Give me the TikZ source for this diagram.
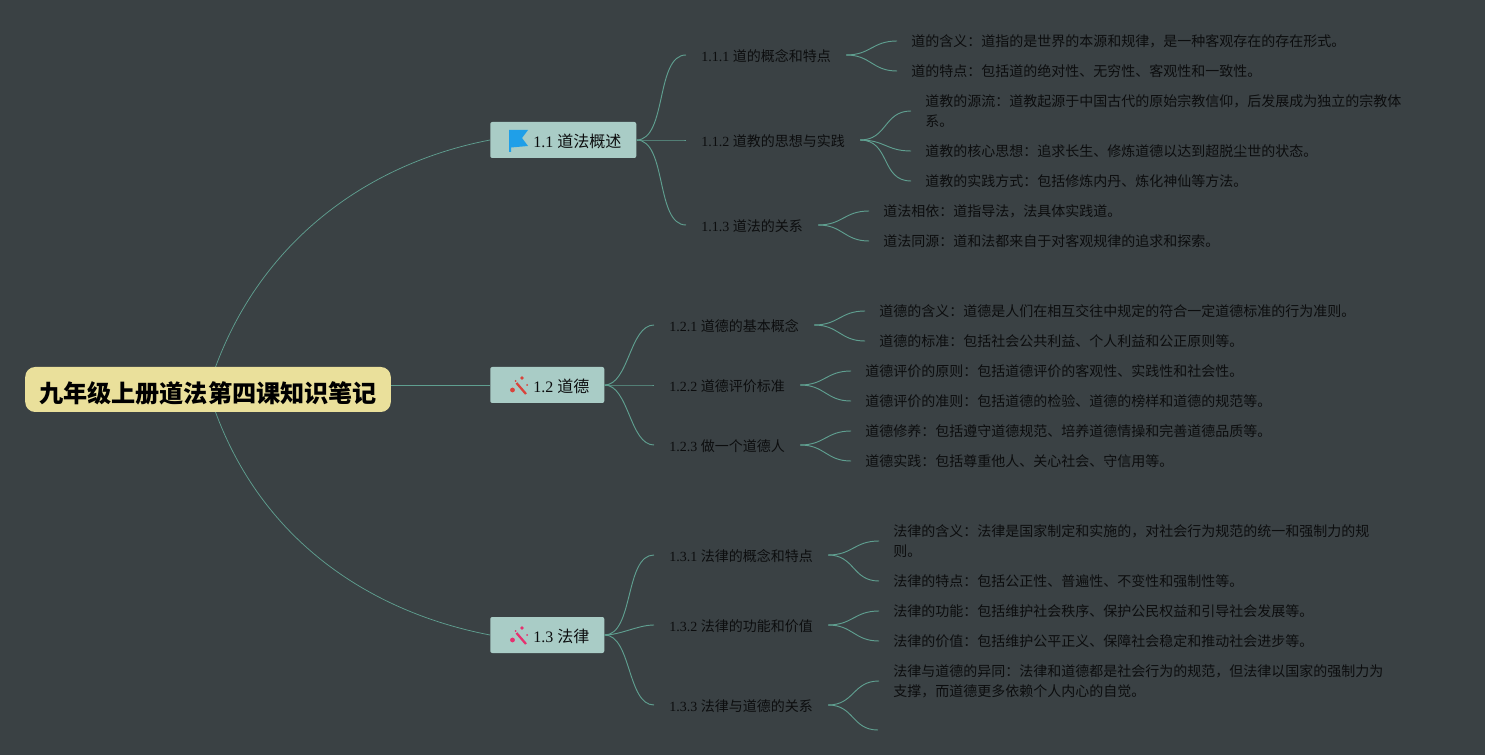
\documentclass[tikz,border=0pt]{standalone}
\usepackage{fontspec}
\setmainfont{Liberation Serif}
\newfontfamily\cjk{Noto Sans CJK SC}
\usetikzlibrary{backgrounds}
\definecolor{boardbg}{HTML}{3A4144}
\definecolor{rootfill}{HTML}{EAE09B}
\definecolor{topicfill}{HTML}{A9CCC6}
\definecolor{linkcol}{HTML}{5F9F90}
\definecolor{inkcol}{HTML}{0C0D0E}
\definecolor{flagblue}{HTML}{1F9FE8}
\definecolor{wandred}{HTML}{D9433B}
\definecolor{wandpink}{HTML}{E6316F}
\tikzset{
	rootnode/.style={fill=rootfill, rounded corners=7.5pt, inner xsep=10.4pt, inner ysep=0pt, minimum height=33.75pt, text height=19.5pt, text depth=0.5pt, text=black, font=\fontsize{18.1}{22}\cjk\bfseries},
	topicnode/.style={anchor=west, fill=topicfill, rounded corners=1.5pt, inner xsep=11.25pt, inner ysep=0pt, minimum height=27pt, text height=11pt, text depth=0.4pt, text=inkcol, font=\fontsize{12}{15}\selectfont},
	subnode/.style={anchor=west, inner xsep=11.25pt, inner ysep=0pt, text height=10pt, text depth=0.6pt, text=inkcol, font=\fontsize{10.5}{15}\selectfont},
	leafnode/.style={anchor=west, inner xsep=10.5pt, inner ysep=0pt, align=left, text=inkcol, font=\fontsize{10.5}{15}\cjk},
	rootlink/.style={linkcol, line width=0.55pt},
	branchlink/.style={linkcol, line width=0.7pt, out=0, in=180, looseness=0.8},
	leaflink/.style={linkcol, line width=0.7pt, out=0, in=180, looseness=1.2}
}
\begin{document}
\begin{tikzpicture}[x=0.75pt, y=-0.75pt]
	\useasboundingbox (0,0) rectangle (1485,755);

	% main nodes
	\node[rootnode] (root) at (208,389.5) {九年级上册道法第四课知识笔记};
	\node[topicnode] (law) at (490,140) {\hspace*{21pt}1.1 {\cjk 道法概述}};
	\node[topicnode] (moral) at (490,385) {\hspace*{21pt}1.2 {\cjk 道德}};
	\node[topicnode] (legal) at (490,635) {\hspace*{21pt}1.3 {\cjk 法律}};

	% second level
	\node[subnode] (sub11) at (686,55) {1.1.1 {\cjk 道的概念和特点}};
	\node[subnode] (sub12) at (686,140) {1.1.2 {\cjk 道教的思想与实践}};
	\node[subnode] (sub13) at (686,225) {1.1.3 {\cjk 道法的关系}};
	\node[subnode] (sub21) at (654,325) {1.2.1 {\cjk 道德的基本概念}};
	\node[subnode] (sub22) at (654,385) {1.2.2 {\cjk 道德评价标准}};
	\node[subnode] (sub23) at (654,445) {1.2.3 {\cjk 做一个道德人}};
	\node[subnode] (sub31) at (654,555) {1.3.1 {\cjk 法律的概念和特点}};
	\node[subnode] (sub32) at (654,625) {1.3.2 {\cjk 法律的功能和价值}};
	\node[subnode] (sub33) at (654,705) {1.3.3 {\cjk 法律与道德的关系}};

	% leaves
	\node[leafnode] (leaf11a) at (897,41) {道的含义：道指的是世界的本源和规律，是一种客观存在的存在形式。};
	\node[leafnode] (leaf11b) at (897,71) {道的特点：包括道的绝对性、无穷性、客观性和一致性。};
	\node[leafnode] (leaf12a) at (911,111) {道教的源流：道教起源于中国古代的原始宗教信仰，后发展成为独立的宗教体\\系。};
	\node[leafnode] (leaf12b) at (911,151) {道教的核心思想：追求长生、修炼道德以达到超脱尘世的状态。};
	\node[leafnode] (leaf12c) at (911,181) {道教的实践方式：包括修炼内丹、炼化神仙等方法。};
	\node[leafnode] (leaf13a) at (869,211) {道法相依：道指导法，法具体实践道。};
	\node[leafnode] (leaf13b) at (869,241) {道法同源：道和法都来自于对客观规律的追求和探索。};
	\node[leafnode] (leaf21a) at (865,311) {道德的含义：道德是人们在相互交往中规定的符合一定道德标准的行为准则。};
	\node[leafnode] (leaf21b) at (865,341) {道德的标准：包括社会公共利益、个人利益和公正原则等。};
	\node[leafnode] (leaf22a) at (851,371) {道德评价的原则：包括道德评价的客观性、实践性和社会性。};
	\node[leafnode] (leaf22b) at (851,401) {道德评价的准则：包括道德的检验、道德的榜样和道德的规范等。};
	\node[leafnode] (leaf23a) at (851,431) {道德修养：包括遵守道德规范、培养道德情操和完善道德品质等。};
	\node[leafnode] (leaf23b) at (851,461) {道德实践：包括尊重他人、关心社会、守信用等。};
	\node[leafnode] (leaf31a) at (879,541) {法律的含义：法律是国家制定和实施的，对社会行为规范的统一和强制力的规\\则。};
	\node[leafnode] (leaf31b) at (879,581) {法律的特点：包括公正性、普遍性、不变性和强制性等。};
	\node[leafnode] (leaf32a) at (879,611) {法律的功能：包括维护社会秩序、保护公民权益和引导社会发展等。};
	\node[leafnode] (leaf32b) at (879,641) {法律的价值：包括维护公平正义、保障社会稳定和推动社会进步等。};
	\node[leafnode] (leaf33a) at (879,681) {法律与道德的异同：法律和道德都是社会行为的规范，但法律以国家的强制力为\\支撑，而道德更多依赖个人内心的自觉。};
	\coordinate (leaf33b) at (878,730);

	% connectors
	\begin{pgfonlayer}{background}
		\fill[boardbg] (0,0) rectangle (1485,755);
		\draw[rootlink] (root.center) .. controls (250,250) and (360,165) .. (law.west);
		\draw[rootlink] (root.east |- moral.west) -- (moral.west);
		\draw[rootlink] (root.center) .. controls (250,530) and (360,610) .. (legal.west);
	\end{pgfonlayer}
	\draw[branchlink] (law.east) to (sub11.west);
	\draw[branchlink] (law.east) to (sub12.west);
	\draw[branchlink] (law.east) to (sub13.west);
	\draw[branchlink] (moral.east) to (sub21.west);
	\draw[branchlink] (moral.east) to (sub22.west);
	\draw[branchlink] (moral.east) to (sub23.west);
	\draw[branchlink] (legal.east) to (sub31.west);
	\draw[branchlink] (legal.east) to (sub32.west);
	\draw[branchlink] (legal.east) to (sub33.west);
	\draw[leaflink] (sub11.east) to (leaf11a.west);
	\draw[leaflink] (sub11.east) to (leaf11b.west);
	\draw[leaflink] (sub12.east) to (leaf12a.west);
	\draw[leaflink] (sub12.east) to (leaf12b.west);
	\draw[leaflink] (sub12.east) to (leaf12c.west);
	\draw[leaflink] (sub13.east) to (leaf13a.west);
	\draw[leaflink] (sub13.east) to (leaf13b.west);
	\draw[leaflink] (sub21.east) to (leaf21a.west);
	\draw[leaflink] (sub21.east) to (leaf21b.west);
	\draw[leaflink] (sub22.east) to (leaf22a.west);
	\draw[leaflink] (sub22.east) to (leaf22b.west);
	\draw[leaflink] (sub23.east) to (leaf23a.west);
	\draw[leaflink] (sub23.east) to (leaf23b.west);
	\draw[leaflink] (sub31.east) to (leaf31a.west);
	\draw[leaflink] (sub31.east) to (leaf31b.west);
	\draw[leaflink] (sub32.east) to (leaf32a.west);
	\draw[leaflink] (sub32.east) to (leaf32b.west);
	\draw[leaflink] (sub33.east) to (leaf33a.west);
	\draw[leaflink] (sub33.east) to (leaf33b);

	% icons
	\fill[flagblue] (509,130) -- (528,130) -- (522,138) -- (528,146) -- (511,147.5) -- (511,152) -- (509,152) -- cycle;
	\foreach \iy/\icol in {0/wandred, 250/wandpink}{
		\draw[\icol, line width=1.7pt] (516.5,383+\iy) -- (526,394+\iy);
		\fill[\icol] (512.5,390+\iy) circle (2.4);
		\fill[\icol] (522,378+\iy) circle (1.9);
		\fill[\icol] (527,385+\iy) circle (1);
		\fill[\icol] (515.5,381+\iy) circle (1);
	}
\end{tikzpicture}
\end{document}
